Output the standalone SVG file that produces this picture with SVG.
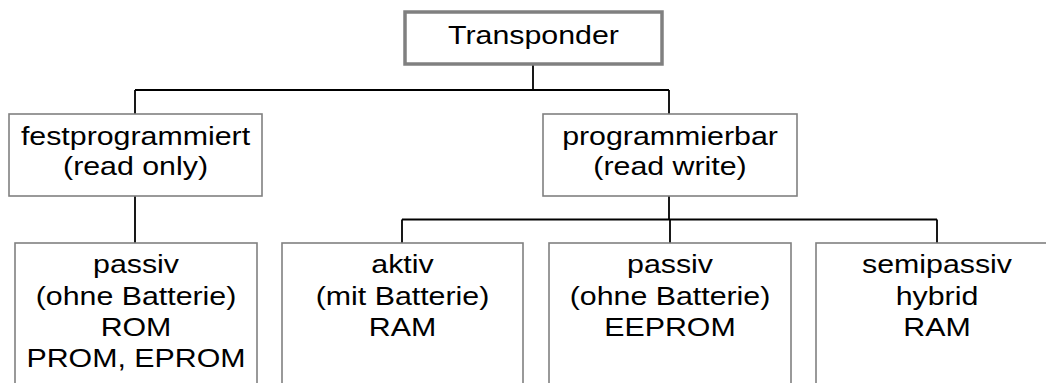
<svg xmlns="http://www.w3.org/2000/svg" width="1046" height="383" viewBox="0 0 1046 383">
<style>
rect.box{fill:#fff;stroke:#808080;stroke-width:1.6}
rect.top{stroke-width:3.5}
text{font-family:"Liberation Sans",Arial,sans-serif;font-size:26.5px;text-anchor:middle;fill:#000}
#connectors path{fill:none;stroke:#000;stroke-width:1.8}
</style>
<rect width="1046" height="383" fill="#fff"/>
<g id="connectors">
<path d="M533 64V90M135 90H669M135 90V114M669 90V114M135 196V243M669 196V219.5M402 219.5H937M402 219.5V243M670 219.5V243M937 219.5V243"/>
</g>
<g id="transponder">
<rect class="box top" x="405" y="12" width="257" height="52"/>
<g transform="translate(533.5 0) scale(1.145 1)"><text x="0" y="44">Transponder</text></g>
</g>
<g id="festprogrammiert">
<rect class="box" x="9" y="114" width="253" height="82"/>
<g transform="translate(135.5 0) scale(1.145 1)">
<text x="0" y="145">festprogrammiert</text>
<text x="0" y="175">(read only)</text>
</g>
</g>
<g id="programmierbar">
<rect class="box" x="543" y="114" width="254" height="82"/>
<g transform="translate(670 0) scale(1.145 1)">
<text x="0" y="145">programmierbar</text>
<text x="0" y="175">(read write)</text>
</g>
</g>
<g id="passiv-rom">
<rect class="box" x="15" y="243" width="242" height="200"/>
<g transform="translate(136 0) scale(1.145 1)">
<text x="0" y="273">passiv</text>
<text x="0" y="305">(ohne Batterie)</text>
<text x="0" y="336">ROM</text>
<text x="0" y="367">PROM, EPROM</text>
</g>
</g>
<g id="aktiv">
<rect class="box" x="282" y="243" width="241" height="200"/>
<g transform="translate(402.5 0) scale(1.145 1)">
<text x="0" y="273">aktiv</text>
<text x="0" y="305">(mit Batterie)</text>
<text x="0" y="336">RAM</text>
</g>
</g>
<g id="passiv-eeprom">
<rect class="box" x="549" y="243" width="242" height="200"/>
<g transform="translate(670 0) scale(1.145 1)">
<text x="0" y="273">passiv</text>
<text x="0" y="305">(ohne Batterie)</text>
<text x="0" y="336">EEPROM</text>
</g>
</g>
<g id="semipassiv">
<rect class="box" x="816" y="243" width="242" height="200"/>
<g transform="translate(937 0) scale(1.145 1)">
<text x="0" y="273">semipassiv</text>
<text x="0" y="305">hybrid</text>
<text x="0" y="336">RAM</text>
</g>
</g>
</svg>
